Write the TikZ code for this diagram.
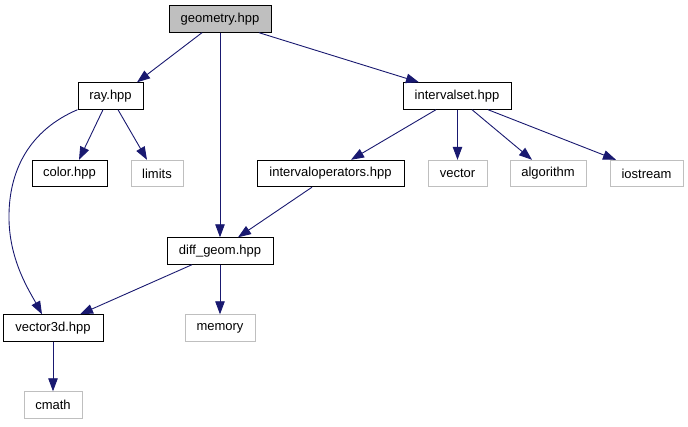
\documentclass[tikz,border=0pt]{standalone}
\usepackage{fontspec}
\setmainfont{Liberation Sans}
\usetikzlibrary{arrows.meta}
\definecolor{edgeblue}{RGB}{25,25,112}
\definecolor{extgray}{RGB}{191,191,191}
\begin{document}
\begin{tikzpicture}[x=1pt,y=-1pt,
  box/.style={draw=black,line width=0.9pt,fill=white,inner sep=0pt,minimum height=26.5pt,
    font=\fontsize{13}{15}\selectfont},
  extbox/.style={box,draw=extgray},
  rootbox/.style={box,fill=extgray},
  edge/.style={draw=edgeblue,line width=0.9pt,-{Triangle[length=13pt,width=9.5pt]}}]
\useasboundingbox (0,0) rectangle (688,427);

% files of the project
\node[rootbox,minimum width=102pt] (geometry) at (220,19) {geometry.hpp};
\node[box,minimum width=65pt] (ray) at (110.5,96) {ray.hpp};
\node[box,minimum width=108pt] (intervalset) at (457,96) {intervalset.hpp};
\node[box,minimum width=75pt] (color) at (69.5,173.5) {color.hpp};
\node[box,minimum width=147pt] (intervalops) at (330.5,173.5) {intervaloperators.hpp};
\node[box,minimum width=106pt] (diffgeom) at (220,251) {diff\_geom.hpp};
\node[box,minimum width=100pt] (vector3d) at (53,328) {vector3d.hpp};

% system headers
\node[extbox,minimum width=52pt] (limits) at (157,173.5) {limits};
\node[extbox,minimum width=59pt] (vector) at (457.5,173.5) {vector};
\node[extbox,minimum width=76pt] (algorithm) at (548,173.5) {algorithm};
\node[extbox,minimum width=73pt] (iostream) at (646.5,173.5) {iostream};
\node[extbox,minimum width=70pt] (memory) at (220,328) {memory};
\node[extbox,minimum width=58pt] (cmath) at (53,405) {cmath};

% include edges
\draw[edge] ([xshift=-18pt]geometry.south) -- ([xshift=26.5pt]ray.north);
\draw[edge] (geometry.south) -- (diffgeom.north);
\draw[edge] ([xshift=39pt]geometry.south) -- ([xshift=-38pt]intervalset.north);

\draw[edge] ([xshift=-7.5pt]ray.south) -- ([xshift=9.5pt]color.north);
\draw[edge] ([xshift=7.5pt]ray.south) -- ([xshift=-10pt]limits.north);
\draw[edge] (ray.south west) .. controls (30,130) and (8,170) .. (9,220)
  .. controls (10,262) and (30,292) .. ([xshift=-11pt]vector3d.north);

\draw[edge] ([xshift=-21pt]intervalset.south) -- ([xshift=20.5pt]intervalops.north);
\draw[edge] ([xshift=0.5pt]intervalset.south) -- (vector.north);
\draw[edge] ([xshift=15pt]intervalset.south) -- ([xshift=-16pt]algorithm.north);
\draw[edge] ([xshift=31pt]intervalset.south) -- ([xshift=-30.5pt]iostream.north);

\draw[edge] ([xshift=-18.5pt]intervalops.south) -- ([xshift=18pt]diffgeom.north);
\draw[edge] ([xshift=-28pt]diffgeom.south) -- ([xshift=27pt]vector3d.north);
\draw[edge] (diffgeom.south) -- (memory.north);
\draw[edge] (vector3d.south) -- (cmath.north);
\end{tikzpicture}
\end{document}
